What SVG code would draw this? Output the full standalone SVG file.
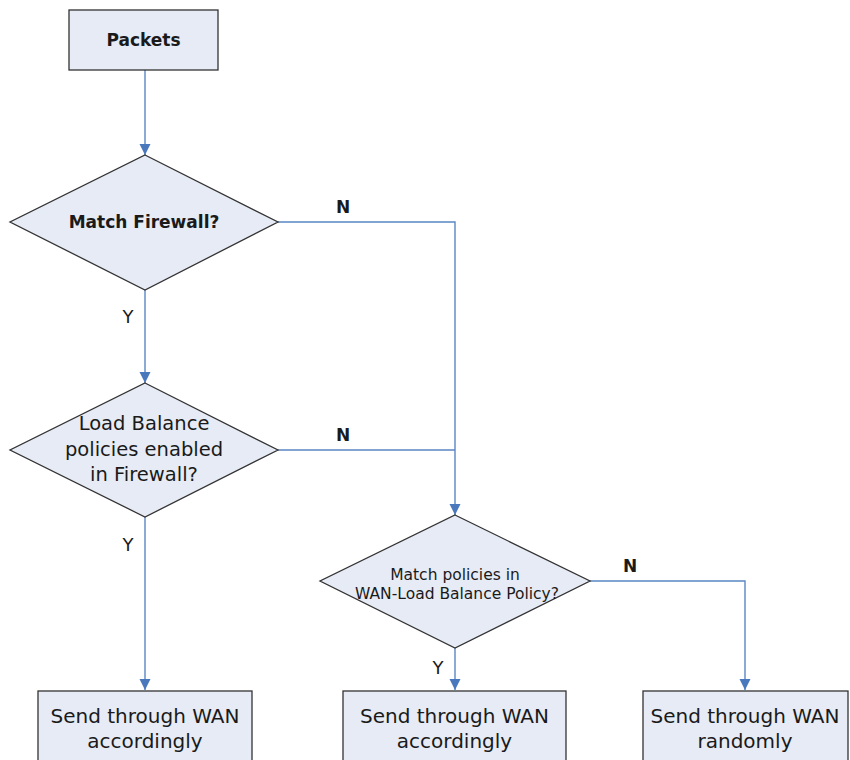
<svg xmlns="http://www.w3.org/2000/svg" width="850" height="760" viewBox="0 0 850 760">
<style>
.shape{fill:#e6ebf5;stroke:#333;stroke-width:1.3}
.lbl{font-family:"DejaVu Sans","Liberation Sans",sans-serif;font-size:17px;fill:#1a1a1a;text-anchor:middle}
.b{font-weight:bold}
.md{font-size:19.5px}
.lg{font-size:20px}
.sm{font-size:15.5px}
.y{font-size:18px}
.con{fill:none;stroke:#5a86c5;stroke-width:1.4}
</style>
<defs>
<marker id="arr" markerWidth="12" markerHeight="12" refX="11" refY="6" orient="auto" markerUnits="userSpaceOnUse">
<path d="M0,0.5 L11,6 L0,11.5 z" fill="#4a78bd"/>
</marker>
</defs>
<rect width="850" height="760" fill="#fff"/>
<g id="connectors">
<path class="con" d="M145,70 V155" marker-end="url(#arr)"/>
<path class="con" d="M145,290 V383" marker-end="url(#arr)"/>
<path class="con" d="M145,517 V690" marker-end="url(#arr)"/>
<path class="con" d="M278,222 H455 V515" marker-end="url(#arr)"/>
<path class="con" d="M278,450 H455"/>
<path class="con" d="M455,648 V690" marker-end="url(#arr)"/>
<path class="con" d="M590,581 H745 V690" marker-end="url(#arr)"/>
<text class="lbl b" x="343" y="213">N</text>
<text class="lbl b" x="343" y="441">N</text>
<text class="lbl b" x="630" y="572">N</text>
<text class="lbl y" x="128" y="323">Y</text>
<text class="lbl y" x="128" y="551">Y</text>
<text class="lbl y" x="438" y="674">Y</text>
</g>
<g id="packets">
<rect class="shape" x="69" y="10" width="149" height="60"/>
<text class="lbl b" x="143.5" y="46">Packets</text>
</g>
<g id="match-firewall">
<polygon class="shape" points="145,155 278,222 145,290 10,222"/>
<text class="lbl b" x="144" y="228">Match Firewall?</text>
</g>
<g id="lb-enabled">
<polygon class="shape" points="145,383 278,450 145,517 10,450"/>
<text class="lbl md" x="144" y="430">Load Balance</text>
<text class="lbl md" x="144" y="456">policies enabled</text>
<text class="lbl md" x="144" y="481">in Firewall?</text>
</g>
<g id="match-policies">
<polygon class="shape" points="455,515 590,581 455,648 320,581"/>
<text class="lbl sm" x="455" y="580">Match policies in</text>
<text class="lbl sm" x="457" y="599">WAN-Load Balance Policy?</text>
</g>
<g id="send1">
<rect class="shape" x="38" y="691" width="214" height="80"/>
<text class="lbl lg" x="145" y="723">Send through WAN</text>
<text class="lbl lg" x="145" y="748">accordingly</text>
</g>
<g id="send2">
<rect class="shape" x="343" y="691" width="223" height="80"/>
<text class="lbl lg" x="454.5" y="723">Send through WAN</text>
<text class="lbl lg" x="454.5" y="748">accordingly</text>
</g>
<g id="send3">
<rect class="shape" x="643" y="691" width="205" height="80"/>
<text class="lbl lg" x="745" y="723">Send through WAN</text>
<text class="lbl lg" x="745" y="748">randomly</text>
</g>
</svg>
